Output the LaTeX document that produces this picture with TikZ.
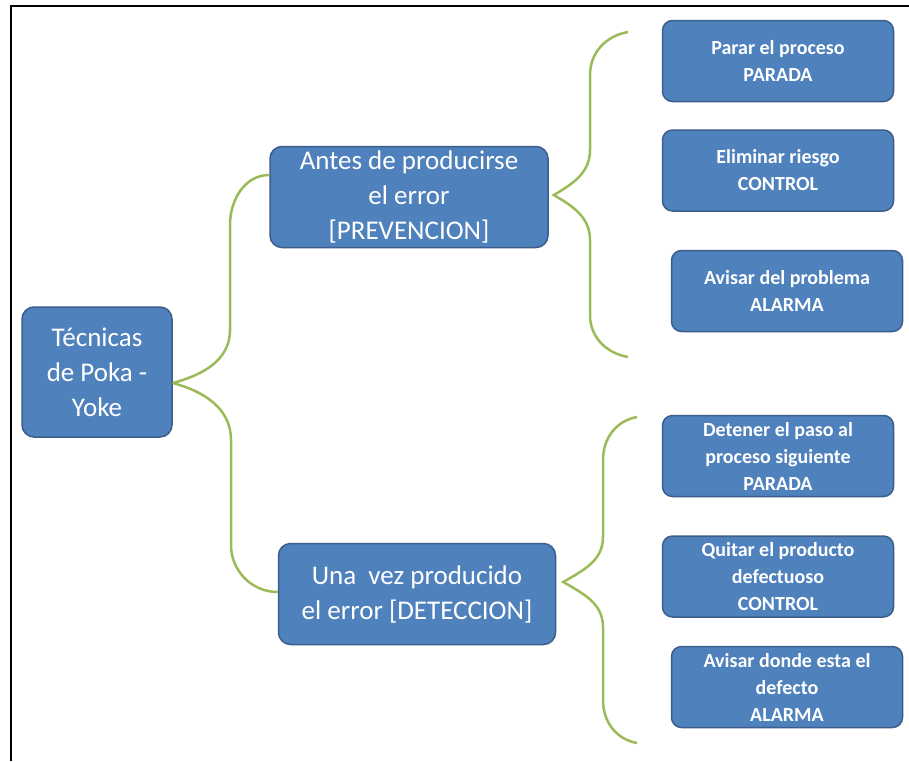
\documentclass[tikz,border=0pt]{standalone}
\usepackage{fontspec}
\setmainfont{Carlito}
\usepackage{tikz}
\usetikzlibrary{positioning}
\usepackage{xcolor}
\definecolor{boxblue}{HTML}{4F81BD}
\definecolor{boxedge}{HTML}{3B5E8C}
\definecolor{branchgreen}{HTML}{9BBB59}

\begin{document}
\begin{tikzpicture}[
  x=1pt, y=1pt,
  big/.style={draw=boxedge, fill=boxblue, line width=1.5pt, rounded corners=12pt, text=white, align=center, inner sep=0pt, font=\fontsize{27}{35}\selectfont},
  sub/.style={draw=boxedge, fill=boxblue, line width=1.5pt, rounded corners=10pt, text=white, align=center, inner sep=0pt, minimum width=231pt, minimum height=81pt, font=\fontsize{20}{27}\selectfont\bfseries},
  branch/.style={draw=branchgreen, line width=2.5pt}
]
\useasboundingbox (0,0) rectangle (909,-761);
\draw[line width=2pt] (909,-6) -- (11,-6) -- (11,-761);
% main boxes
\node[big, minimum width=150pt, minimum height=130pt] (root) at (97,-372) {Técnicas\\de Poka -\\Yoke};
\node[big, minimum width=278pt, minimum height=101pt] (prev) at (409,-197) {Antes de producirse\\el error\\{[PREVENCION]}};
\node[big, minimum width=277pt, minimum height=101pt] (det) at (417,-594) {Una\ \ vez producido\\el error [DETECCION]};
% prevention
\node[sub] (a1) at (778,-61) {Parar el proceso\\PARADA};
\node[sub, below=27pt of a1] (a2) {Eliminar riesgo\\CONTROL};
\node[sub, below=38pt of a2, xshift=9pt] (a3) {Avisar del problema\\ALARMA};
% detection
\node[sub] (b1) at (778,-456) {Detener el paso al\\proceso siguiente\\PARADA};
\node[sub, below=38pt of b1] (b2) {Quitar el producto\\defectuoso\\CONTROL};
\node[sub, below=28pt of b2, xshift=9pt] (b3) {Avisar donde esta el\\defecto\\ALARMA};
% braces
\coordinate (rtip) at ([yshift=-11pt]root.east);
\coordinate (atip) at ([shift={(5pt,2pt)}]prev.east);
\coordinate (atop) at (628,-32);
\coordinate (abot) at (628,-357);
\coordinate (btip) at ([shift={(7pt,12pt)}]det.east);
\coordinate (btop) at (637,-417);
\coordinate (bbot) at (637,-743);
\draw[branch] (rtip) to[out=15,in=-90] (230,-330) -- (230,-225) to[out=90,in=180] ([yshift=22pt]prev.west);
\draw[branch] (rtip) to[out=-15,in=90] (231,-440) -- (231,-545) to[out=-90,in=180] ([yshift=2pt]det.west);
\draw[branch] (atop) to[out=190,in=90] (590,-75) -- (590,-150) to[out=-90,in=30] (atip) to[out=-30,in=90] (590,-240) -- (590,-315) to[out=-90,in=170] (abot);
\draw[branch] (btop) to[out=190,in=90] (603,-460) -- (603,-537) to[out=-90,in=30] (btip) to[out=-30,in=90] (603,-627) -- (603,-700) to[out=-90,in=170] (bbot);
\end{tikzpicture}
\end{document}
